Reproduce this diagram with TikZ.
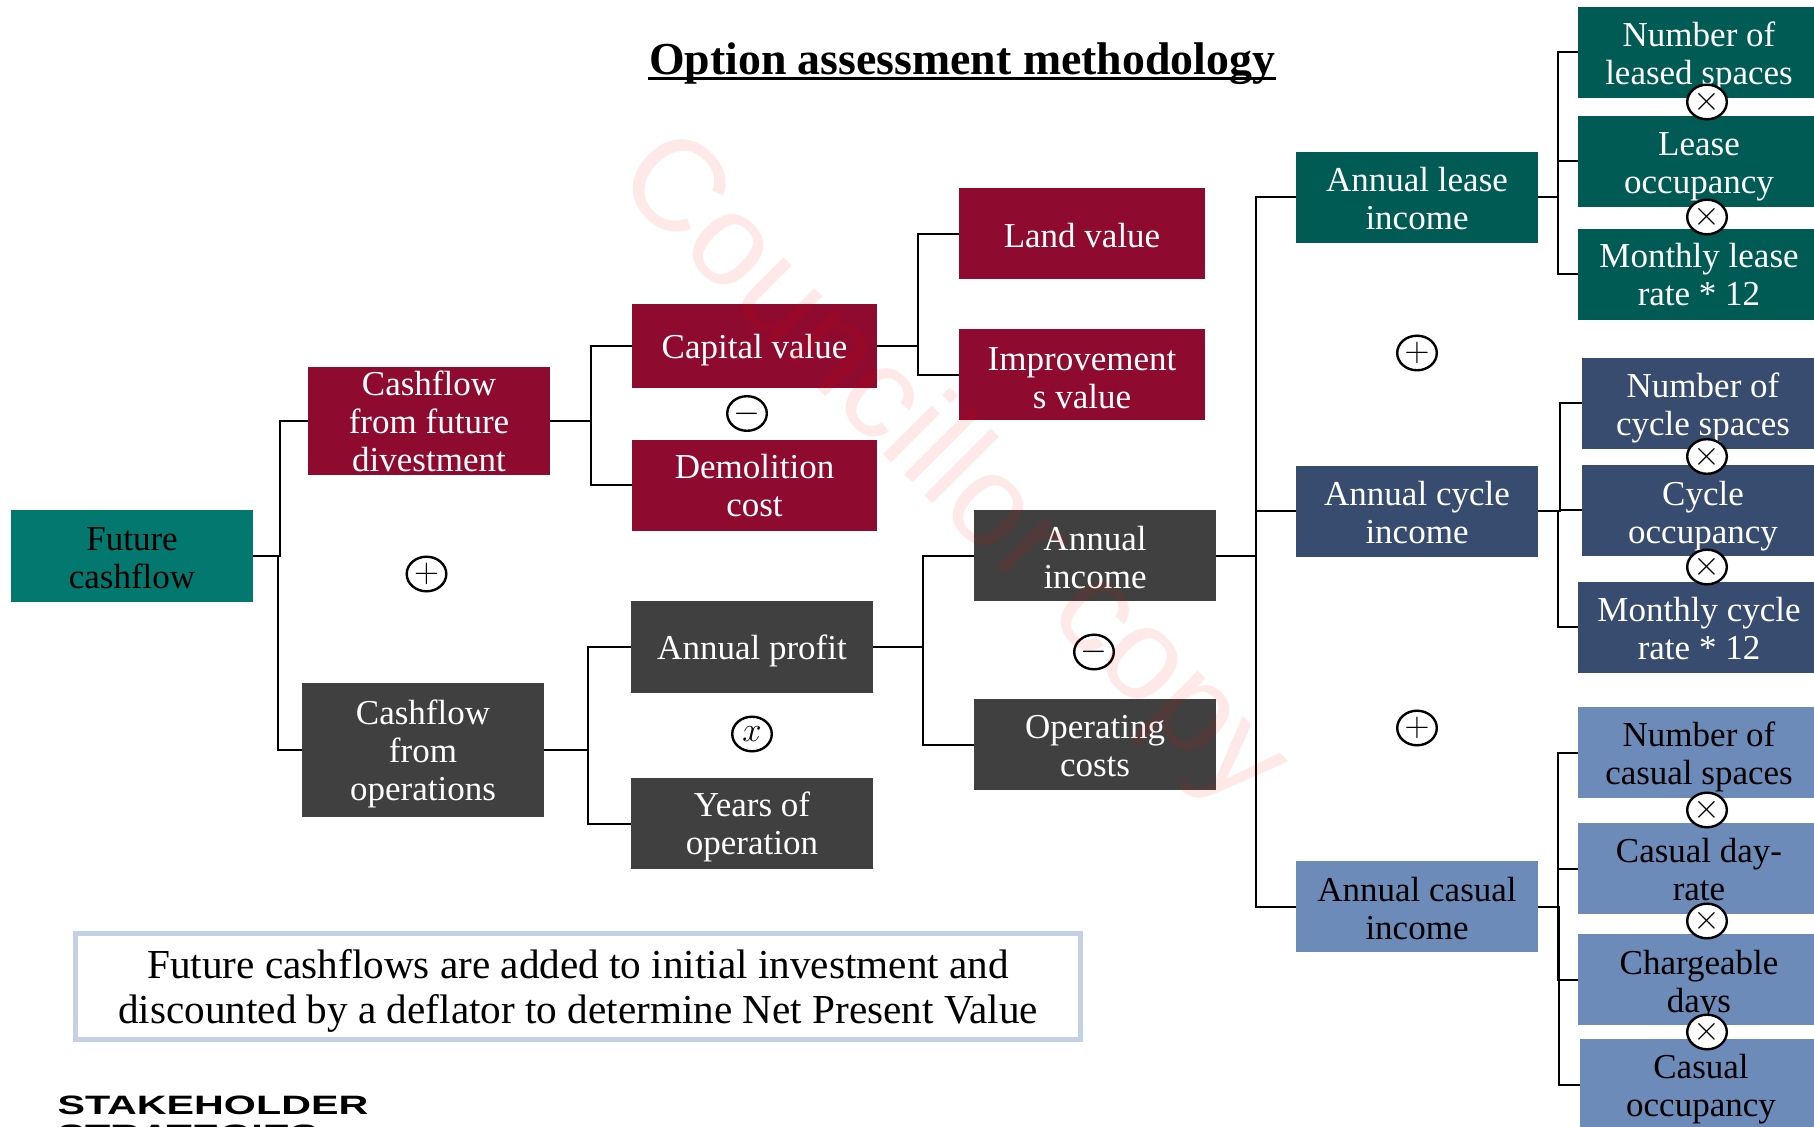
\documentclass[tikz,border=0pt]{standalone}
\usepackage{fontspec}
\setmainfont{Liberation Serif}
\newfontfamily\wmfont{Liberation Sans}
\usetikzlibrary{shapes.geometric}
\definecolor{tealc}{HTML}{03786E}
\definecolor{wine}{HTML}{8E0A2E}
\definecolor{coal}{HTML}{404040}
\definecolor{pine}{HTML}{005B55}
\definecolor{navy}{HTML}{374C6E}
\definecolor{steel}{HTML}{6C8BB8}
\definecolor{pale}{HTML}{C4D0E3}
\tikzset{
    tile/.style={inner sep=0pt, outer sep=0pt, align=center, text=white,
        font=\fontsize{17.5}{19}\selectfont,
        minimum width=121pt, minimum height=45.5pt},
    drop/.style={execute at begin node={\rule{0pt}{#1}}},
    sign/.style={ellipse, draw, line width=1.2pt, fill=white, inner sep=0pt,
        minimum width=19.8pt, minimum height=17.3pt, font=\fontsize{16}{16}\selectfont},
    fork/.style={to path={-- ++(#1,0) |- (\tikztotarget)}}
}

\begin{document}
\begin{tikzpicture}[x=0.5pt,y=-0.5pt,line width=1pt]
        \useasboundingbox (0,0) rectangle (1814,1127);

        \node[font=\fontsize{22.9}{26}\bfseries\selectfont,inner sep=0pt,anchor=base] at (962,74.5) (title) {Option assessment methodology};
        \draw[line width=1.2pt] ([yshift=-2pt]title.base west) -- ([yshift=-2pt]title.base east);

        \node[tile,fill=tealc,text=black,minimum height=46pt,drop=32.2pt] at (132,556) (fut) {Future\\cashflow};
        \node[tile,fill=wine,minimum height=54pt] at (429,421) (div) {Cashflow\\from future\\divestment};
        \node[tile,fill=coal,minimum height=67pt,drop=54.6pt] at (423,750) (ops) {Cashflow\\from\\operations};

        \node[tile,fill=wine,minimum width=122.5pt,minimum height=42pt,drop=16.5pt] at (754.5,346) (cap) {Capital value};
        \node[tile,fill=wine,minimum width=122.5pt] at (754.5,485.5) (dem) {Demolition\\cost};
        \node[tile,fill=coal,drop=16.5pt] at (752,647) (prof) {Annual profit};
        \node[tile,fill=coal,drop=34.5pt] at (752,823.5) (yrs) {Years of\\operation};

        \node[tile,fill=wine,minimum width=123pt,drop=13.5pt] at (1082,234) (land) {Land value};
        \node[tile,fill=wine,minimum width=123pt,drop=33.3pt] at (1082,375) (imp) {Improvement\\s value};
        \node[tile,fill=coal,drop=32.2pt] at (1095,556) (inc) {Annual\\income};
        \node[tile,fill=coal,drop=32.2pt] at (1095,744.5) (opc) {Operating\\costs};

        \node[tile,fill=pine,drop=32.2pt] at (1417,197.5) (lse) {Annual lease\\income};
        \node[tile,fill=navy,drop=32.2pt] at (1417,511.5) (cyc) {Annual cycle\\income};
        \node[tile,fill=steel,text=black,drop=33.3pt] at (1417,906.5) (cas) {Annual casual\\income};

        \node[tile,fill=pine,drop=35.6pt] at (1699,52.5) (nls) {Number of\\leased spaces};
        \node[tile,fill=pine,drop=35.6pt] at (1699,161.5) (loc) {Lease\\occupancy};
        \node[tile,fill=pine] at (1699,274.5) (mlr) {Monthly lease\\rate * 12};

        \node[tile,fill=navy,drop=35.6pt] at (1703,403.5) (ncy) {Number of\\cycle spaces};
        \node[tile,fill=navy,drop=36.8pt] at (1703,510.5) (cyo) {Cycle\\occupancy};
        \node[tile,fill=navy,drop=32.2pt] at (1699,627.5) (mcr) {Monthly cycle\\rate * 12};

        \node[tile,fill=steel,text=black,drop=35.6pt] at (1699,752.5) (ncs) {Number of\\casual spaces};
        \node[tile,fill=steel,text=black,drop=32.2pt] at (1699,868.5) (cdr) {Casual day-\\rate};
        \node[tile,fill=steel,text=black,drop=36.8pt] at (1699,979.5) (chg) {Chargeable\\days};
        \node[tile,fill=steel,text=black,drop=36.2pt] at (1701,1084.5) (coc) {Casual\\occupancy};

        \draw (fut.east) edge[fork=27] (div.west)
                         edge[fork=24.5] (ops.west);
        \draw (div.east) edge[fork=40.5] (cap.west)
                         edge[fork=40.5] (dem.west);
        \draw (ops.east) edge[fork=44] (prof.west)
                         edge[fork=44] (yrs.west);
        \draw (cap.east) edge[fork=41] (land.west)
                         edge[fork=41] (imp.west);
        \draw (prof.east) edge[fork=50] (inc.west)
                          edge[fork=50] (opc.west);
        \draw (inc.east) edge[fork=40] (lse.west)
                         edge[fork=40] (cyc.west)
                         edge[fork=40] (cas.west);
        \draw (lse.east) edge[fork=20] (nls.west)
                         edge[fork=20] (loc.west)
                         edge[fork=20] (mlr.west);
        \draw (cyc.east) edge[fork=22] (ncy.west)
                         edge[fork=22] (cyo.west)
                         edge[fork=20] (mcr.west);
        \draw (cas.east) edge[fork=20] (ncs.west)
                         edge[fork=20] (cdr.west)
                         edge[fork=20] (chg.west)
                         edge[fork=21] (coc.west);

        \node[sign] at (426.5,574) (plusa) {$+$};
        \node[sign] at (1417,353) (plusb) {$+$};
        \node[sign] at (1417,728) (plusc) {$+$};
        \node[sign] at (747,413.5) (minusa) {$-$};
        \node[sign] at (1094,652) (minusb) {$-$};
        \node[sign,font=\fontsize{19}{19}\selectfont] at (752,734) (timesa) {$x$};
        \node[sign] at (1707,102) (timesb) {$\times$};
        \node[sign] at (1707,217) (timesc) {$\times$};
        \node[sign] at (1707,456.5) (timesd) {$\times$};
        \node[sign] at (1707,567) (timese) {$\times$};
        \node[sign] at (1707,810) (timesf) {$\times$};
        \node[sign] at (1707,921) (timesg) {$\times$};
        \node[sign] at (1707,1032) (timesh) {$\times$};

        \node[draw=pale,line width=2.5pt,minimum width=502.5pt,minimum height=53pt,inner sep=0pt,align=center,
              font=\fontsize{20.6}{22.5}\selectfont,drop=41pt] at (578,986.5) (note)
              {Future cashflows are added to initial investment and\\discounted by a deflator to determine Net Present Value};

        \node[font=\wmfont\bfseries\fontsize{13.3}{14.5}\selectfont,xscale=1.55,align=left,inner sep=0pt,anchor=north west] at (56,1094.5) (logo) {STAKEHOLDER\\STRATEGIES};

        %watermark over everything
        \node[font=\wmfont\fontsize{65}{65}\selectfont,text=red,text opacity=0.09,rotate=-45] at (950,473) (wm) {Councillor copy};
    \end{tikzpicture}
\end{document}
